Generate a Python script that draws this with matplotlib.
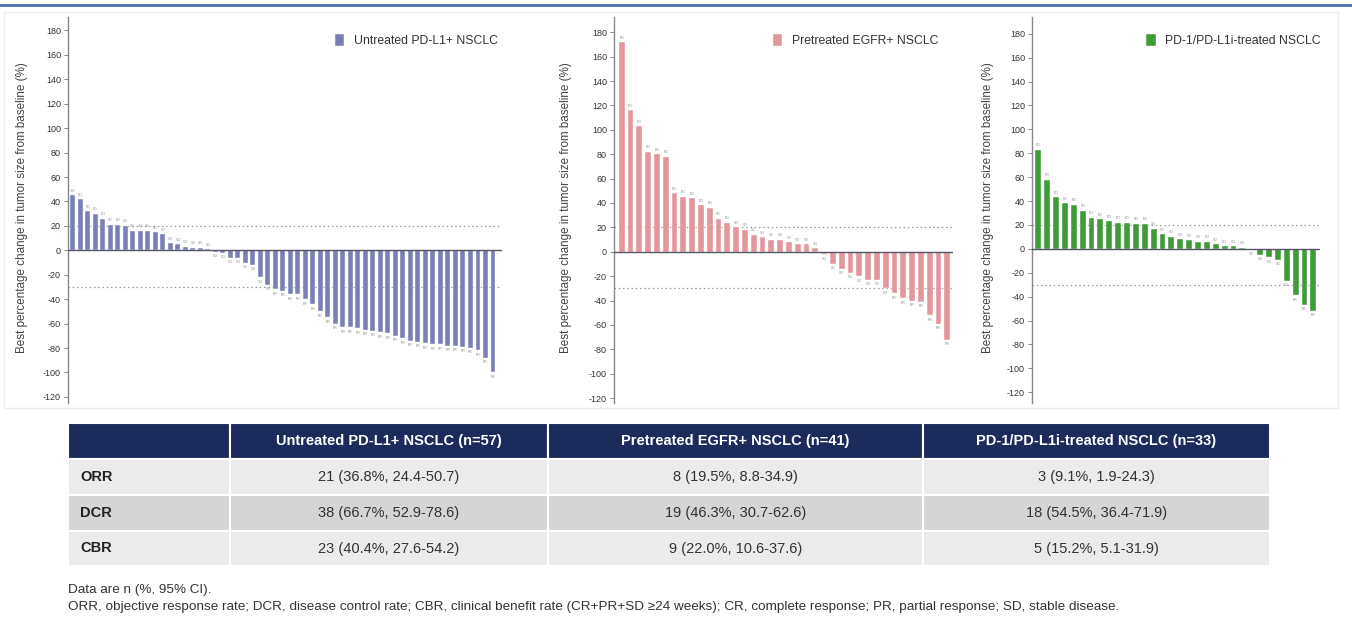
import matplotlib
matplotlib.use("Agg")
import matplotlib.pyplot as plt
from matplotlib import font_manager
from matplotlib.patches import Rectangle

# pick a condensed font when there is one
names = {f.name for f in font_manager.fontManager.ttflist}
FONT = "Liberation Sans Narrow" if "Liberation Sans Narrow" in names else "Liberation Sans"
plt.rcParams["font.family"] = [FONT, "DejaVu Sans"]
plt.rcParams["axes.unicode_minus"] = False

# ============================
# DATA
# ============================

untreated_pdl1 = [45, 42, 32, 30, 26, 21, 21, 20, 16, 16, 16, 15, 13, 6, 5, 3, 2, 2, 1,
                  -1, -2, -6, -6, -10, -12, -22, -28, -32, -33, -36, -36, -40, -44, -50,
                  -55, -60, -63, -63, -64, -65, -66, -67, -68, -70, -72, -74, -75, -76,
                  -77, -77, -78, -78, -79, -80, -82, -88, -100]

pretreated_egfr = [172, 116, 103, 82, 80, 78, 48, 45, 44, 38, 36, 27, 24, 20, 18, 14, 12,
                   10, 10, 8, 6, 6, 3,
                   -2, -10, -14, -17, -20, -23, -23, -30, -34, -38, -40, -41, -52, -59, -72]

pd1_treated = [83, 58, 43, 38, 37, 32, 26, 25, 23, 22, 22, 21, 21, 17, 12, 10, 8, 7, 6, 6,
               4, 2, 2, 1,
               -1, -5, -7, -9, -27, -39, -47, -52]

series_names = ["Untreated PD-L1+ NSCLC", "Pretreated EGFR+ NSCLC", "PD-1/PD-L1i-treated NSCLC"]
yticks = [180, 160, 140, 120, 100, 80, 60, 40, 20, 0, -20, -40, -60, -80, -100, -120]

table_header = ["", "Untreated PD-L1+ NSCLC (n=57)", "Pretreated EGFR+ NSCLC (n=41)",
                "PD-1/PD-L1i-treated NSCLC (n=33)"]
row_labels = ["ORR", "DCR", "CBR"]
orr = ["21 (36.8%, 24.4-50.7)", "8 (19.5%, 8.8-34.9)", "3 (9.1%, 1.9-24.3)"]
dcr = ["38 (66.7%, 52.9-78.6)", "19 (46.3%, 30.7-62.6)", "18 (54.5%, 36.4-71.9)"]
cbr = ["23 (40.4%, 27.6-54.2)", "9 (22.0%, 10.6-37.6)", "5 (15.2%, 5.1-31.9)"]

footnote1 = "Data are n (%, 95% CI)."
footnote2 = ("ORR, objective response rate; DCR, disease control rate; CBR, clinical benefit rate "
             "(CR+PR+SD \u226524 weeks); CR, complete response; PR, partial response; SD, stable disease.")

# ============================
# FIGURE
# ============================

W, H = 1352, 621
fig = plt.figure(figsize=(W / 100, H / 100), dpi=100)
fig.patch.set_facecolor("white")

# background layer in pixel units (for table, footnotes, rules)
bg = fig.add_axes([0, 0, 1, 1])
bg.set_xlim(0, W)
bg.set_ylim(H, 0)
bg.axis("off")
bg.plot([0, W], [5, 5], color="#4a72b2", lw=2)
bg.add_patch(Rectangle((4, 12), 1334, 396, fill=False, ec="#ececec", lw=1))


def status(v):
    if v > 20:
        return "PD"
    if v < -30:
        return "PR"
    return "SD"


# panel boxes in pixels: left, right, top, bottom, plus ylim
panels = [
    dict(vals=untreated_pdl1, color="#7a7fb8", box=(68, 502, 17, 403), ylim=(-125, 191),
         xpad=(0.63, 1.2), leg=(0.615, 0.955), ylab_x=22),
    dict(vals=pretreated_egfr, color="#e3979c", box=(614, 953, 17, 403), ylim=(-124, 192.5),
         xpad=(0.88, 0.65), leg=(0.47, 0.955), ylab_x=566),
    dict(vals=pd1_treated, color="#3f9b37", box=(1032, 1320, 17, 403), ylim=(-129, 194),
         xpad=(0.71, 0.75), leg=(0.397, 0.955), ylab_x=988),
]

for p, name in zip(panels, series_names):
    l, r, t, b = p["box"]
    ax = fig.add_axes([l / W, 1 - b / H, (r - l) / W, (b - t) / H])
    vals = p["vals"]
    x = list(range(len(vals)))
    ax.bar(x, vals, width=0.66, color=p["color"], edgecolor="white", linewidth=0.3,
           label=name, zorder=2)
    for i, v in zip(x, vals):
        if v >= 0:
            ax.text(i, v + 2, status(v), ha="center", va="bottom", fontsize=2.5, color="#888888")
        else:
            ax.text(i, v - 2, status(v), ha="center", va="top", fontsize=2.5, color="#888888")
    ax.axhline(0, color="#555566", lw=1.0, zorder=3)
    ax.axhline(20, color="#999999", lw=0.9, ls=(0, (1.2, 2.2)), zorder=1)
    ax.axhline(-30, color="#999999", lw=0.9, ls=(0, (1.2, 2.2)), zorder=1)
    ax.set_xlim(-p["xpad"][0], len(vals) - 1 + p["xpad"][1])
    ax.set_ylim(*p["ylim"])
    ax.set_yticks(yticks)
    ax.tick_params(axis="y", labelsize=6.5, colors="#333333", length=3, width=0.7, pad=2)
    ax.tick_params(axis="y", color="#888888")
    ax.set_xticks([])
    for s in ["top", "right", "bottom"]:
        ax.spines[s].set_visible(False)
    ax.spines["left"].set_color("#888888")
    ax.spines["left"].set_linewidth(1.0)
    ax.patch.set_alpha(0)
    fig.text(p["ylab_x"] / W, 1 - 208 / H, "Best percentage change in tumor size from baseline (%)",
             rotation=90, ha="center", va="center", fontsize=8.4, color="#444444")
    ax.legend(loc="upper left", bbox_to_anchor=p["leg"], frameon=False, fontsize=8.8,
              handlelength=0.75, handleheight=1.1, handletextpad=0.8, borderaxespad=0,
              borderpad=0, labelcolor="#333333")

# ============================
# TABLE
# ============================

col_x = [68, 230, 548, 923, 1270]
row_y = [423, 459, 495, 531, 566]
navy = "#1c2a5c"
fills = ["#ebebeb", "#d5d5d5", "#ebebeb"]

for c in range(4):
    x0, x1 = col_x[c], col_x[c + 1]
    bg.add_patch(Rectangle((x0, row_y[0]), x1 - x0, row_y[1] - row_y[0], fc=navy, ec="white", lw=1.5))
    bg.text((x0 + x1) / 2, (row_y[0] + row_y[1]) / 2, table_header[c], ha="center", va="center",
            color="white", fontsize=10.5, fontweight="bold")

for rw, (lab, vals) in enumerate(zip(row_labels, [orr, dcr, cbr])):
    y0, y1 = row_y[rw + 1], row_y[rw + 2]
    for c in range(4):
        x0, x1 = col_x[c], col_x[c + 1]
        bg.add_patch(Rectangle((x0, y0), x1 - x0, y1 - y0, fc=fills[rw], ec="white", lw=1.5))
    bg.text(col_x[0] + 12, (y0 + y1) / 2, lab, ha="left", va="center", fontsize=10.5,
            fontweight="bold", color="#222222")
    for c, v in enumerate(vals):
        x0, x1 = col_x[c + 1], col_x[c + 2]
        bg.text((x0 + x1) / 2, (y0 + y1) / 2, v, ha="center", va="center", fontsize=10.5,
                color="#333333")

bg.text(68, 590, footnote1, ha="left", va="center", fontsize=9.7, color="#333333")
bg.text(68, 607, footnote2, ha="left", va="center", fontsize=9.7, color="#333333")

fig.savefig("out.png", dpi=100)
